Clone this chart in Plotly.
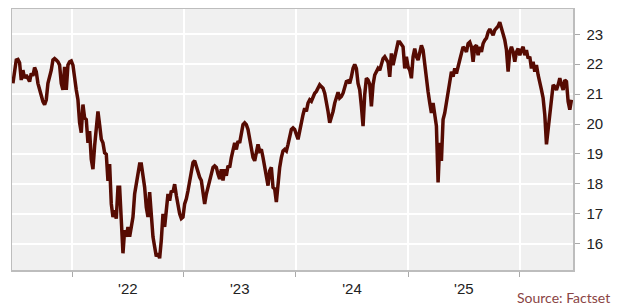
import pandas as pd
import plotly.graph_objects as go

# ---- data ----
start_date = "2021-06-22"
end_date = "2026-06-18"

pe_2021h2 = [21.36, 21.86, 22.14, 22.16, 22.05, 21.47, 21.80, 21.53, 21.64, 21.53, 21.42, 21.69, 21.61, 21.89,
             21.75, 21.36, 21.14, 20.92, 20.75, 20.65, 20.81, 21.36, 21.58, 21.80, 22.14, 22.19, 22.14, 22.08,
             21.97, 21.36, 21.14, 21.91, 21.14, 21.97, 22.08, 22.11, 21.97, 21.47, 21.14, 20.81, 20.04, 19.71,
             20.65, 20.20, 20.15, 19.37, 19.76, 18.82, 18.49, 19.27, 19.93, 20.42, 19.98, 19.49, 19.37, 19.04]
pe_2022 = [18.99, 18.10, 18.66, 17.33, 16.89, 17.11, 16.84, 17.89, 17.89, 16.78, 15.68, 16.45, 16.23, 16.56,
           16.23, 16.56, 16.89, 17.66, 17.99, 18.22, 18.66, 18.66, 18.33, 17.89, 17.22, 16.89, 17.72, 16.78,
           16.23, 15.90, 15.57, 15.68, 15.51, 16.12, 17.00, 16.56, 17.11, 17.66, 17.44, 17.77, 17.72, 17.99,
           17.61, 17.22, 17.00, 16.84, 16.89, 17.33, 17.50, 17.77, 18.10, 18.38, 18.71, 18.77, 18.55, 18.33, 18.22]
pe_2023 = [18.11, 17.77, 17.33, 17.66, 17.88, 18.22, 18.44, 18.55, 18.60, 18.55, 18.33, 18.16, 18.49, 18.11,
           18.49, 18.27, 18.60, 18.55, 18.88, 19.21, 19.37, 19.15, 19.43, 19.37, 19.71, 19.98, 20.04, 19.98,
           19.82, 19.49, 19.32, 18.88, 18.77, 19.10, 19.32, 19.10, 19.15, 18.88, 18.55, 18.22, 17.94, 18.44,
           18.55, 17.88, 17.83, 17.39, 18.11, 18.55, 18.88, 19.10, 19.15, 19.10, 19.32, 19.65, 19.82, 19.87, 19.82]
pe_2024 = [19.65, 19.49, 19.76, 20.09, 20.31, 20.53, 20.42, 20.70, 20.81, 20.76, 20.92, 21.03, 21.09, 21.20,
           21.31, 21.25, 21.20, 21.03, 20.76, 20.42, 20.04, 20.20, 20.42, 20.70, 20.92, 21.06, 20.87, 20.92,
           21.03, 21.20, 21.42, 21.44, 21.36, 21.58, 21.86, 21.99, 21.86, 21.36, 21.14, 20.59, 19.93, 20.98,
           21.53, 21.47, 21.33, 20.59, 21.31, 21.64, 21.75, 21.86, 21.80, 22.02, 22.19, 22.25, 22.13, 22.06, 21.58]
pe_2025 = [22.36, 21.97, 22.25, 22.58, 22.74, 22.74, 22.63, 22.58, 21.86, 22.25, 21.91, 21.80, 21.53, 22.25,
           22.52, 22.25, 22.14, 22.47, 22.63, 22.47, 21.91, 21.53, 21.08, 20.70, 20.37, 20.70, 20.37, 19.93,
           18.05, 19.37, 18.77, 20.15, 20.37, 20.70, 21.14, 21.53, 21.75, 21.58, 21.86, 21.69, 21.97, 22.14,
           22.36, 22.58, 22.52, 22.41, 22.69, 22.74, 22.58, 22.08, 22.58, 22.63, 22.30, 22.58, 22.41, 22.69, 22.80]
pe_2026 = [22.87, 23.07, 23.17, 23.07, 22.97, 23.14, 23.21, 23.27, 23.40, 23.14, 23.01, 22.81, 22.48, 21.75,
           22.41, 22.58, 22.41, 22.08, 22.41, 22.52, 22.30, 22.47, 22.58, 22.30, 22.47, 22.19, 22.25, 21.86,
           22.08, 21.75, 21.97, 21.64, 21.31, 21.14, 20.87, 20.31, 19.32, 19.87, 20.31, 20.87, 21.31, 21.25,
           21.14, 21.31, 21.53, 21.31, 21.14, 21.47, 21.42, 20.75, 20.48, 20.81]

year_starts = ["2022-01-01", "2023-01-01", "2024-01-01", "2025-01-01", "2026-01-01"]
label_dates = ["2022-07-02", "2023-07-02", "2024-07-02", "2025-07-02"]
year_labels = ["'22", "'23", "'24", "'25"]
y_ticks = [16, 17, 18, 19, 20, 21, 22, 23]

values = pe_2021h2 + pe_2022 + pe_2023 + pe_2024 + pe_2025 + pe_2026
dates = pd.date_range(start_date, end_date, periods=len(values))

fig = go.Figure()
fig.add_trace(go.Scatter(
    x=dates, y=values, mode="lines",
    line=dict(color="#560b02", width=3.5),
    hoverinfo="skip", showlegend=False,
))

axis_line = "#bdbdbd"
fig.update_layout(
    width=617, height=306,
    margin=dict(l=12, r=44, t=7, b=36),
    paper_bgcolor="white",
    plot_bgcolor="#f0f0f0",
    font=dict(family="Liberation Sans, Arial, sans-serif", size=15, color="#222222"),
    xaxis=dict(
        type="date",
        range=["2021-06-19", "2026-06-23"],
        tickvals=label_dates, ticktext=year_labels,
        ticks="", showgrid=False,
        showline=True, mirror=True, linecolor=axis_line, linewidth=1.5,
        tickfont=dict(size=15, color="#222222"),
        ticklabelstandoff=4,
        minor=dict(tickvals=year_starts, showgrid=True, gridcolor="white", gridwidth=2,
                   ticks="outside", ticklen=5, tickcolor="#aaaaaa", tickwidth=1),
        zeroline=False, fixedrange=True,
    ),
    yaxis=dict(
        side="right",
        range=[15.12, 23.845],
        tickvals=y_ticks,
        showgrid=True, gridcolor="white", gridwidth=2,
        ticks="outside", ticklen=5, tickcolor="#aaaaaa",
        showline=True, mirror=True, linecolor=axis_line, linewidth=1.5,
        tickfont=dict(size=15, color="#222222"),
        ticklabelstandoff=4,
        zeroline=False, fixedrange=True,
    ),
    annotations=[dict(
        text="Source: Factset", xref="paper", yref="paper",
        x=1.069, y=-0.106, xanchor="right", yanchor="middle",
        showarrow=False,
        font=dict(family="Lato, Open Sans, sans-serif", size=14, color="#8a4444"),
    )],
)

fig.write_html(
    "out.html",
    config={"displayModeBar": False, "staticPlot": True},
    post_script="document.body.style.margin='0px';document.body.style.overflow='hidden';",
)
